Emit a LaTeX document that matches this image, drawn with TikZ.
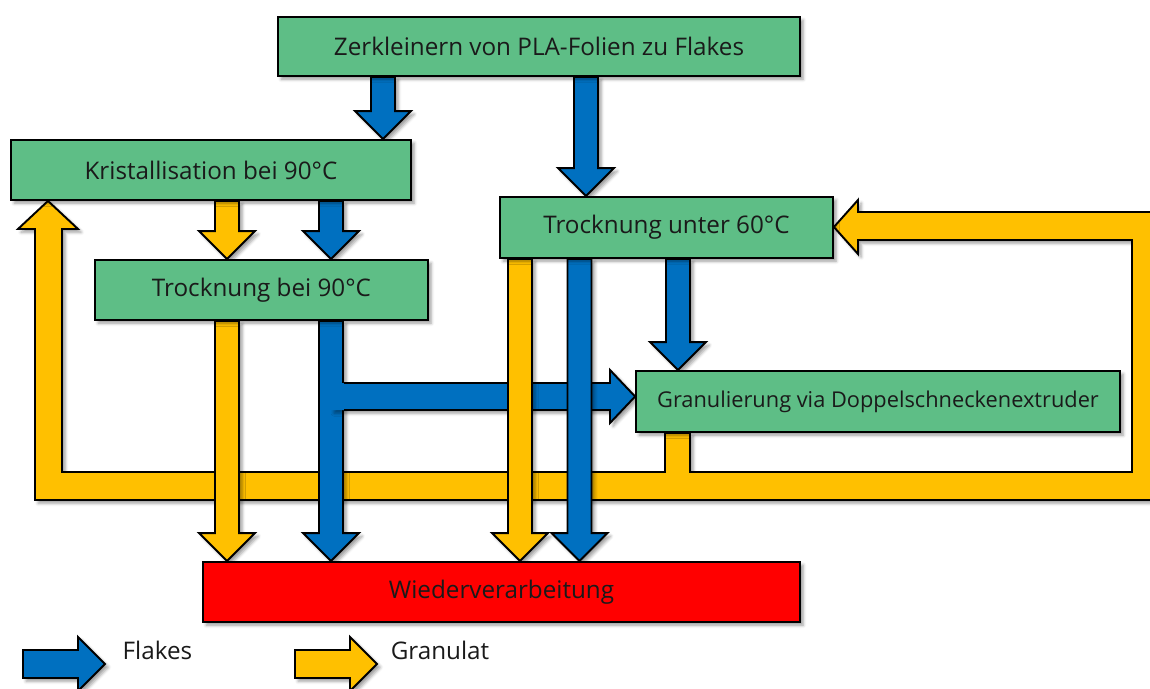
\documentclass[tikz,border=0pt]{standalone}
\usepackage{fontspec}
\setmainfont{Open Sans}
\usetikzlibrary{calc,shadows.blur}
\pgfdeclarelayer{bg}\pgfsetlayers{bg,main}
\definecolor{boxgreen}{RGB}{94,190,134}
\definecolor{flblue}{RGB}{0,112,192}
\definecolor{granyel}{RGB}{255,192,0}
\definecolor{boxred}{RGB}{255,0,0}
\definecolor{txt}{RGB}{26,26,26}
\tikzset{
  shad/.style={blur shadow={shadow xshift=1.8pt,shadow yshift=-1.8pt,shadow blur radius=1.8pt,shadow opacity=40}},
  box/.style={draw=black,line width=1.1pt,fill=boxgreen,inner sep=0pt,
    font=\fontsize{13.8}{16}\selectfont,text=txt,shad},
  arr/.style={draw=black,line width=1.1pt,line join=miter,shad},
  lbl/.style={font=\fontsize{13.8}{16}\selectfont,text=txt,inner sep=0pt}
}
% vertical block arrow: colour, x, start anchor, end anchor
\newcommand\DArr[4]{\draw[arr,fill=#1]
  ({#2-12},0 |- #3) -- ($({#2-12},0 |- #4)+(0,-28)$) -- ($({#2-28},0 |- #4)+(0,-28)$)
  -- (#2,0 |- #4) -- ($({#2+28},0 |- #4)+(0,-28)$) -- ($({#2+12},0 |- #4)+(0,-28)$)
  -- ({#2+12},0 |- #3) -- cycle;}
\begin{document}
\begin{tikzpicture}[x=0.02cm,y=-0.02cm]
\useasboundingbox (0,0) rectangle (1150,689);
% boxes
\node[box,minimum width=10.44cm,minimum height=1.18cm] (zk) at (539,46.5) {Zerkleinern von PLA-Folien zu Flakes};
\node[box,minimum width=8cm,minimum height=1.2cm] (kr) at (211,170) {Kristallisation bei 90°C};
\node[box,minimum width=6.66cm,minimum height=1.2cm] (tb) at (261.5,290) {Trocknung bei 90°C};
\node[box,minimum width=6.66cm,minimum height=1.22cm] (tu) at (666.5,227.5) {Trocknung unter 60°C};
\node[box,minimum width=9.68cm,minimum height=1.22cm,font=\fontsize{12.4}{15}\selectfont] (gr) at (878,401.5) {Granulierung via Doppelschneckenextruder};
\node[box,fill=boxred,minimum width=11.94cm,minimum height=1.2cm] (wv) at (501.5,592) {Wiederverarbeitung};
% legend
\draw[arr,fill=flblue] (23,650) -- (78,650) -- (78,637) -- (105,664) -- (78,691) -- (78,678) -- (23,678) -- cycle;
\node[lbl] (lf) at (157.5,650) {Flakes};
\draw[arr,fill=granyel] (295,650) -- (350,650) -- (350,637) -- (377,664) -- (350,691) -- (350,678) -- (295,678) -- cycle;
\node[lbl] (lg) at (440,650) {Granulat};
\begin{pgfonlayer}{bg}
% granulate return loop
\draw[arr,fill=granyel] (665,0 |- gr.south) -- (665,472) -- (62,472) -- (62,229) -- (78,229)
  -- (48,0 |- kr.south) -- (18,229) -- (35,229) -- (35,500) -- (1152,500) -- (1152,212)
  -- (858,212) -- (858,200) -- (tu.east |- 0,227) -- (858,254) -- (858,240) -- (1132,240)
  -- (1132,472) -- (690,472) -- (690,0 |- gr.south) -- cycle;
% from Zerkleinern
\DArr{flblue}{383}{zk.south}{kr.north}
\DArr{flblue}{586}{zk.south}{tu.north}
% Kristallisation -> Trocknung bei 90
\DArr{granyel}{227}{kr.south}{tb.north}
\DArr{flblue}{331}{kr.south}{tb.north}
% Trocknung bei 90 -> Wiederverarbeitung
\DArr{granyel}{227}{tb.south}{wv.north}
\DArr{flblue}{331}{tb.south}{wv.north}
% branch to Granulierung
\fill[flblue,shad] (331,383) -- (610,383) -- (610,370) -- (gr.west |- 0,396.5) -- (610,423) -- (610,410) -- (331,410) -- cycle;
\draw[black,line width=1.1pt,line join=miter] (344,383) -- (610,383) -- (610,370) -- (gr.west |- 0,396.5) -- (610,423) -- (610,410) -- (344,410);
% Trocknung unter 60 -> Wiederverarbeitung / Granulierung
\DArr{granyel}{520}{tu.south}{wv.north}
\DArr{flblue}{579.5}{tu.south}{wv.north}
\DArr{flblue}{678}{tu.south}{gr.north}
\end{pgfonlayer}
\end{tikzpicture}
\end{document}
